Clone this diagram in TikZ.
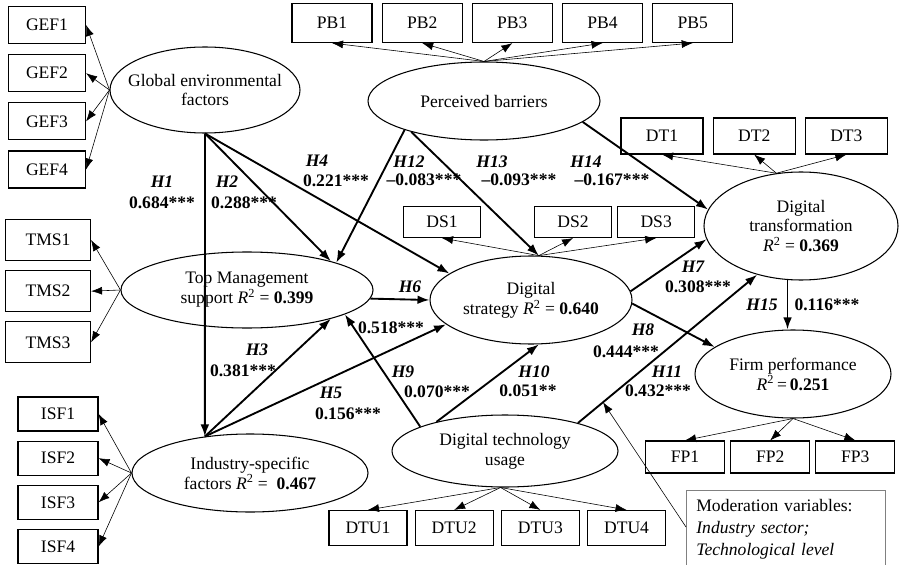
\documentclass[tikz,border=0pt]{standalone}
\usepackage{fontspec}
\setmainfont{Liberation Serif}
\usepackage{tikz}
\usetikzlibrary{shapes.geometric,arrows.meta,positioning,calc}

\begin{document}
\begin{tikzpicture}[
    x=0.03cm, y=-0.03cm,
    font=\fontsize{15}{17}\selectfont,
    box/.style={rectangle, draw, line width=1pt, minimum width=2.4cm, minimum height=1.08cm, inner sep=1pt},
    latent/.style={ellipse, draw, line width=0.9pt, align=center, inner xsep=-0.5cm, inner ysep=0pt},
    arrow/.style={-{Latex[length=3.6mm,width=2.6mm]}, line width=1.6pt},
    thinarrow/.style={-{Latex[length=3.3mm,width=2.4mm]}, line width=0.5pt},
    hname/.style={font=\fontsize{15}{17}\selectfont\bfseries\itshape, inner sep=0pt},
    hval/.style={font=\fontsize{15}{17}\selectfont\bfseries, inner sep=0pt},
    modbox/.style={draw=gray, line width=0.6pt, anchor=north west, align=left, text width=5.37cm,
        inner xsep=0.3cm, inner ysep=0.27cm, text depth=47pt, font=\fontsize{15}{18.7}\selectfont}
]
    \fill[white] (0,0) rectangle (900,565);
    \clip (0,0) rectangle (900,565);

    % latent constructs
    \node[latent, minimum width=5.7cm, minimum height=2.58cm] (gef) at (205,90) {Global environmental\\factors};
    \node[latent, minimum width=6.96cm, minimum height=2.34cm] (pb) at (484,101) {Perceived barriers};
    \node[latent, minimum width=7.56cm, minimum height=2.28cm] (tms) at (247,290) {Top Management\\support \textit{R}\textsuperscript{2} = \textbf{0.399}};
    \node[latent, minimum width=6.06cm, minimum height=2.64cm] (ds) at (531,300) {Digital\\strategy \textit{R}\textsuperscript{2} = \textbf{0.640}};
    \node[latent, minimum width=5.82cm, minimum height=3.24cm] (dt) at (801,226) {Digital\\transformation\\\textit{R}\textsuperscript{2} = \textbf{0.369}};
    \node[latent, minimum width=7.08cm, minimum height=2.34cm] (isf) at (250,473) {Industry-specific\\factors \textit{R}\textsuperscript{2} = \ \textbf{0.467}};
    \node[latent, minimum width=6.78cm, minimum height=2.16cm] (dtu) at (505,451) {Digital technology\\usage};
    \node[latent, minimum width=5.88cm, minimum height=2.64cm] (fp) at (793,374) {Firm performance\\\textit{R}\textsuperscript{2}\,=\,\textbf{0.251}};

    % indicators
    \node[box, minimum width=2.31cm, minimum height=1.11cm] (gef1) at (47,25) {GEF1};
    \node[box, minimum width=2.31cm, minimum height=1.11cm, below=0.3cm of gef1] (gef2) {GEF2};
    \node[box, minimum width=2.31cm, minimum height=1.11cm, below=0.3cm of gef2] (gef3) {GEF3};
    \node[box, minimum width=2.31cm, minimum height=1.11cm, below=0.3cm of gef3] (gef4) {GEF4};

    \node[box, minimum width=2.55cm, minimum height=1.23cm] (tms1) at (48,240) {TMS1};
    \node[box, minimum width=2.55cm, minimum height=1.23cm, below=0.27cm of tms1] (tms2) {TMS2};
    \node[box, minimum width=2.55cm, minimum height=1.23cm, below=0.27cm of tms2] (tms3) {TMS3};

    \node[box, minimum height=1.02cm] (isf1) at (58,414) {ISF1};
    \node[box, minimum height=1.02cm, below=0.27cm of isf1] (isf2) {ISF2};
    \node[box, minimum height=1.02cm, below=0.27cm of isf2] (isf3) {ISF3};
    \node[box, minimum height=1.02cm, below=0.27cm of isf3] (isf4) {ISF4};

    \node[box, minimum height=1.17cm] (pb1) at (332,23) {PB1};
    \node[box, minimum height=1.17cm, right=0.27cm of pb1] (pb2) {PB2};
    \node[box, minimum height=1.17cm, right=0.27cm of pb2] (pb3) {PB3};
    \node[box, minimum height=1.17cm, right=0.27cm of pb3] (pb4) {PB4};
    \node[box, minimum height=1.17cm, right=0.27cm of pb4] (pb5) {PB5};

    \node[box, minimum width=2.46cm] (dt1) at (662,136) {DT1};
    \node[box, minimum width=2.46cm, right=0.27cm of dt1] (dt2) {DT2};
    \node[box, minimum width=2.46cm, right=0.27cm of dt2] (dt3) {DT3};

    \node[box, minimum width=2.31cm, minimum height=0.93cm] (ds1) at (442,222) {DS1};
    \node[box, minimum width=2.31cm, minimum height=0.93cm] (ds2) at (573,222) {DS2};
    \node[box, minimum width=2.31cm, minimum height=0.93cm, right=0.15cm of ds2] (ds3) {DS3};

    \node[box, minimum width=2.34cm, minimum height=1.05cm] (dtu1) at (368,528) {DTU1};
    \node[box, minimum width=2.34cm, minimum height=1.05cm, right=0.21cm of dtu1] (dtu2) {DTU2};
    \node[box, minimum width=2.34cm, minimum height=1.05cm, right=0.21cm of dtu2] (dtu3) {DTU3};
    \node[box, minimum width=2.34cm, minimum height=1.05cm, right=0.21cm of dtu3] (dtu4) {DTU4};

    \node[box, minimum width=2.37cm, minimum height=0.96cm] (fp1) at (685,457) {FP1};
    \node[box, minimum width=2.37cm, minimum height=0.96cm, right=0.15cm of fp1] (fp2) {FP2};
    \node[box, minimum width=2.37cm, minimum height=0.96cm, right=0.15cm of fp2] (fp3) {FP3};

    \node[modbox] (mod) at (686,490) {Moderation variables:\\\textit{Industry sector;}\\\textit{Technological level}};

    % loadings
    \draw[thinarrow] (gef.west) -- (gef1.east);
    \draw[thinarrow] (gef.west) -- (gef2.east);
    \draw[thinarrow] (gef.west) -- (gef3.east);
    \draw[thinarrow] (gef.west) -- (gef4.east);
    \draw[thinarrow] (tms.west) -- (tms1.east);
    \draw[thinarrow] (tms.west) -- (tms2.east);
    \draw[thinarrow] (tms.west) -- (tms3.east);
    \draw[thinarrow] (isf.west) -- (isf1.east);
    \draw[thinarrow] (isf.west) -- (isf2.east);
    \draw[thinarrow] (isf.west) -- (isf3.east);
    \draw[thinarrow] (isf.west) -- (isf4.east);
    \draw[thinarrow] (pb.north) -- (pb1.south);
    \draw[thinarrow] (pb.north) -- (pb2.south);
    \draw[thinarrow] (pb.north) -- (pb3.south);
    \draw[thinarrow] (pb.north) -- (pb4.south);
    \draw[thinarrow] (pb.north) -- (pb5.south);
    \draw[thinarrow] (dt.115) -- (dt1.south);
    \draw[thinarrow] (dt.115) -- (dt2.south);
    \draw[thinarrow] (dt.115) -- (dt3.south);
    \draw[thinarrow] (ds.80) -- (ds1.south);
    \draw[thinarrow] (ds.80) -- (ds2.south);
    \draw[thinarrow] (ds.80) -- (ds3.south);
    \draw[thinarrow] (dtu.263) -- (dtu1.north);
    \draw[thinarrow] (dtu.263) -- (dtu2.north);
    \draw[thinarrow] (dtu.263) -- (dtu3.north);
    \draw[thinarrow] (dtu.263) -- (dtu4.north);
    \draw[thinarrow] (fp.south) -- (fp1.north);
    \draw[thinarrow] (fp.south) -- (fp2.north);
    \draw[thinarrow] (fp.south) -- (fp3.north);

    % paths
    \draw[arrow] (gef.south) -- (isf.141);
    \draw[arrow] (gef.south) -- (tms.19);
    \draw[arrow] (gef.south) -- (ds.162);
    \draw[arrow] (pb.200) -- (tms.17);
    \draw[arrow] (pb.203) -- (ds.80);
    \draw[arrow] (pb.348) -- (dt.170);
    \draw[arrow] (isf.141) -- (tms.341);
    \draw[arrow] (isf.141) -- (ds.196);
    \draw[arrow] (tms.356) -- (ds.west);
    \draw[arrow] (dtu.164) -- (tms.346);
    \draw[arrow] (dtu.157) -- (ds.280);
    \draw[arrow] (dtu.21) -- (dt.228);
    \draw[arrow] (ds.5) -- (dt.188);
    \draw[arrow] (ds.358) -- (fp.161);
    \draw[arrow] (dt.256) -- (dt.256 |- fp.north);

    % moderation
    \coordinate (modtip) at ($(dtu.21)!0.14!(dt.228)$);
    \draw[thinarrow] ($(mod.north west)+(0,37)$) -- (modtip);

    % path labels
    \node[hname] (h1) at (162,182) {H1};
    \node[hval] (h1v) at (162,203) {0.684***};
    \node[hname] (h2) at (227,182) {H2};
    \node[hval] (h2v) at (244,203) {0.288***};
    \node[hname] (h4) at (317,161) {H4};
    \node[hval] (h4v) at (336,181) {0.221***};
    \node[hname] (h12) at (409,162) {H12};
    \node[hval] (h12v) at (424,180) {--0.083***};
    \node[hname] (h13) at (492,162) {H13};
    \node[hval] (h13v) at (519,180) {--0.093***};
    \node[hname] (h14) at (586,162) {H14};
    \node[hval] (h14v) at (612,180) {--0.167***};
    \node[hname] (h6) at (410,287) {H6};
    \node[hval] (h6v) at (391,328) {0.518***};
    \node[hname] (h3) at (257,350) {H3};
    \node[hval] (h3v) at (243,371) {0.381***};
    \node[hname] (h5) at (331,393) {H5};
    \node[hval] (h5v) at (348,414) {0.156***};
    \node[hname] (h9) at (403,372) {H9};
    \node[hval] (h9v) at (437,392) {0.070***};
    \node[hname] (h10) at (534,372) {H10};
    \node[hval] (h10v) at (528,391) {0.051**};
    \node[hname] (h7) at (693,267) {H7};
    \node[hval] (h7v) at (698,287) {0.308***};
    \node[hname] (h8) at (643,330) {H8};
    \node[hval] (h8v) at (626,352) {0.444***};
    \node[hname] (h11) at (667,372) {H11};
    \node[hval] (h11v) at (658,391) {0.432***};
    \node[hname] (h15) at (762,305) {H15};
    \node[hval] (h15v) at (827,305) {0.116***};
\end{tikzpicture}
\end{document}
